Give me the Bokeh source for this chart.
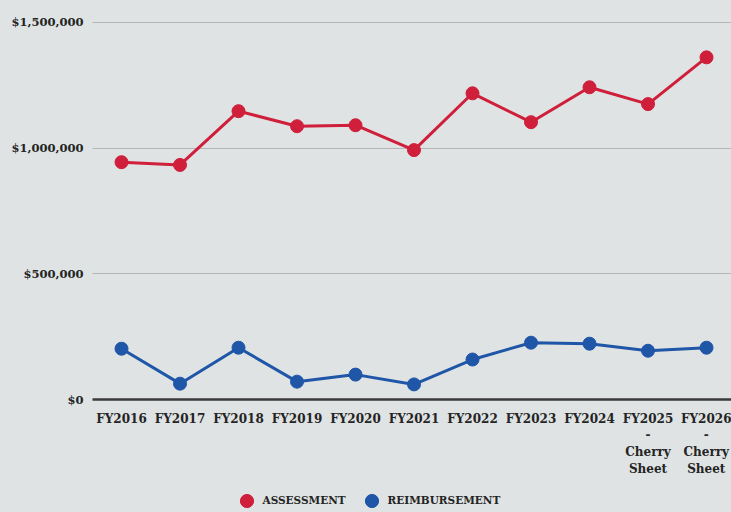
from bokeh.plotting import figure
from bokeh.layouts import column
from bokeh.models import FixedTicker, Legend, LegendItem, NumeralTickFormatter, Range1d
from bokeh.embed import file_html
from bokeh.resources import INLINE

# ---- data ----
years = ["FY2016", "FY2017", "FY2018", "FY2019", "FY2020", "FY2021",
         "FY2022", "FY2023", "FY2024", "FY2025", "FY2026"]
tick_labels = ["FY2016", "FY2017", "FY2018", "FY2019", "FY2020", "FY2021",
               "FY2022", "FY2023", "FY2024", "FY2025\n-\nCherry\nSheet",
               "FY2026\n-\nCherry\nSheet"]
series_names = ["ASSESSMENT", "REIMBURSEMENT"]
assessment = [944000, 933000, 1147000, 1087000, 1091000, 992000,
              1218000, 1103000, 1242000, 1175000, 1361000]
reimbursement = [202000, 63000, 206000, 71000, 99000, 60000,
                 159000, 226000, 222000, 194000, 206000]
y_ticks = [0, 500000, 1000000, 1500000]

BG = "#dfe3e3"
RED = "#cf1f3b"
BLUE = "#1f56a8"
TXT = "#242424"
FONT = "DejaVu Serif"

xs = list(range(len(years)))

p = figure(width=731, height=480, output_backend="svg", toolbar_location=None,
           x_range=Range1d(-0.496, 10.427), y_range=Range1d(0, 1539380),
           min_border_left=92, min_border_right=0, min_border_top=12,
           min_border_bottom=81)
p.background_fill_color = None
p.border_fill_color = BG
p.outline_line_color = None

p.line(xs, assessment, color=RED, line_width=3)
p.scatter(xs, assessment, size=13, color=RED)
p.line(xs, reimbursement, color=BLUE, line_width=3)
p.scatter(xs, reimbursement, size=13, color=BLUE)

# axes
p.xaxis.ticker = FixedTicker(ticks=xs)
p.xaxis.major_label_overrides = {i: lab for i, lab in zip(xs, tick_labels)}
p.xaxis.major_tick_line_color = None
p.xaxis.minor_tick_line_color = None
p.xaxis.axis_line_color = "#3a3a3a"
p.xaxis.axis_line_width = 2.5
p.xaxis.major_label_text_font = FONT
p.xaxis.major_label_text_font_style = "bold"
p.xaxis.major_label_text_font_size = "12px"
p.xaxis.major_label_text_line_height = 1.2
p.xaxis.major_label_text_color = TXT
p.xaxis.major_label_standoff = 6

p.yaxis.ticker = FixedTicker(ticks=y_ticks)
p.yaxis.formatter = NumeralTickFormatter(format="$0,0")
p.yaxis.major_tick_line_color = None
p.yaxis.minor_tick_line_color = None
p.yaxis.axis_line_color = None
p.yaxis.major_label_text_font = FONT
p.yaxis.major_label_text_font_style = "bold"
p.yaxis.major_label_text_font_size = "11.5px"
p.yaxis.major_label_text_color = TXT
p.yaxis.major_label_standoff = 3

p.xgrid.grid_line_color = None
p.ygrid.grid_line_color = "#b3b6b7"
p.ygrid.grid_line_width = 1

# ---- legend strip (series drawn outside its visible range, only the legend shows) ----
lg = figure(width=731, height=32, output_backend="svg", toolbar_location=None,
            x_range=Range1d(0, 1), y_range=Range1d(0, 1),
            x_axis_location=None, y_axis_location=None,
            min_border_left=0, min_border_right=0, min_border_top=0,
            min_border_bottom=0)
lg.background_fill_color = None
lg.border_fill_color = BG
lg.outline_line_color = None
lg.xgrid.grid_line_color = None
lg.ygrid.grid_line_color = None
ra = lg.scatter(xs, assessment, size=13, color=RED)
rb = lg.scatter(xs, reimbursement, size=13, color=BLUE)

legend = Legend(items=[LegendItem(label=series_names[0], renderers=[ra]),
                       LegendItem(label=series_names[1], renderers=[rb])],
                orientation="horizontal", location=(137.5, -4.5),
                background_fill_alpha=0, border_line_alpha=0,
                margin=0, padding=0, spacing=9, glyph_width=33, glyph_height=33,
                label_standoff=0, label_text_font=FONT,
                label_text_font_style="bold", label_text_font_size="10.5px",
                label_text_color=TXT)
lg.add_layout(legend, "center")

layout = column(p, lg, spacing=0, styles={"background-color": BG})
open("out.html", "w").write(file_html(layout, INLINE))
